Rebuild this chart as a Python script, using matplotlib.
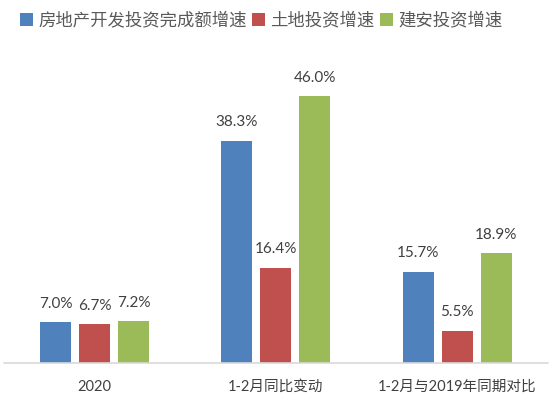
import numpy as np
import matplotlib.pyplot as plt

plt.rcParams['font.family'] = ['Lato', 'Noto Sans CJK SC', 'DejaVu Sans']

categories = ['2020', '1-2月同比变动', '1-2月与2019年同期对比']
series_names = ['房地产开发投资完成额增速', '土地投资增速', '建安投资增速']
series_values = [
    [7.0, 38.3, 15.7],
    [6.7, 16.4, 5.5],
    [7.2, 46.0, 18.9],
]
colors = ['#4F81BD', '#C0504D', '#9BBB59']

fig = plt.figure(figsize=(5.5, 3.99), dpi=100)
ax = fig.add_axes([0.007, 0.0902, 0.989, 0.727])

x = np.arange(len(categories))
width = 0.17
step = 0.215
for i, (name, vals) in enumerate(zip(series_names, series_values)):
    pos = x + (i - 1) * step
    bars = ax.bar(pos, vals, width, color=colors[i], label=name)
    for xp, v in zip(pos, vals):
        ax.text(xp, v + 2.0, f'{v:.1f}%', ha='center', va='bottom',
                fontsize=11, color='#404040')

ax.set_xlim(-0.5, 2.5)
ax.set_ylim(0, 50)
ax.set_xticks(x)
ax.set_xticklabels(categories, fontsize=10.5, color='#404040')
ax.tick_params(axis='x', length=0, pad=12)
ax.set_yticks([])
for s in ['top', 'right', 'left']:
    ax.spines[s].set_visible(False)
ax.spines['bottom'].set_color('#D9D9D9')
ax.spines['bottom'].set_linewidth(1.2)

fig.legend(loc='upper center', bbox_to_anchor=(0.475, 1.01), ncol=3, frameon=False,
           fontsize=12.5, handlelength=0.75, handleheight=0.75, handletextpad=0.3,
           columnspacing=0.3, labelcolor='#595959')

fig.savefig('out.png', dpi=100)
